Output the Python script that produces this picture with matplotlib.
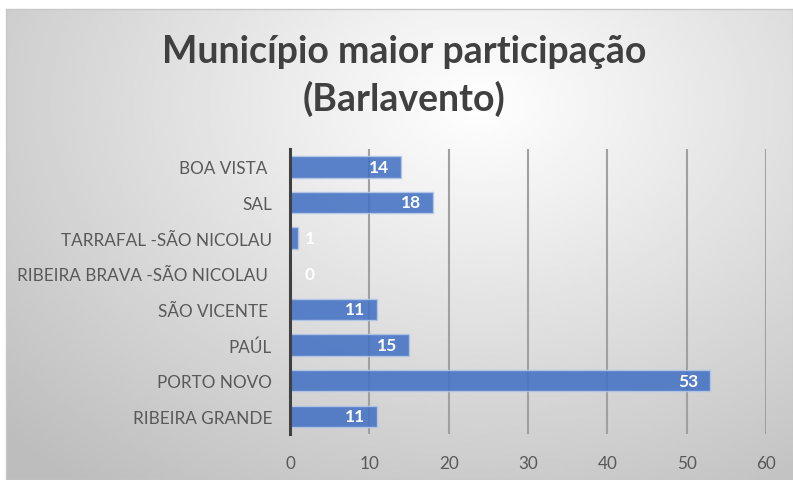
import numpy as np
import matplotlib
matplotlib.use("Agg")
import matplotlib.pyplot as plt

# data
categories = ["BOA VISTA ", "SAL", "TARRAFAL -SÃO NICOLAU", "RIBEIRA BRAVA -SÃO NICOLAU ",
              "SÃO VICENTE ", "PAÚL", "PORTO NOVO", "RIBEIRA GRANDE"]
values = [14, 18, 1, 0, 11, 15, 53, 11]
xticks = [0, 10, 20, 30, 40, 50, 60]
title = "Município maior participação\n(Barlavento)"

plt.rcParams["font.family"] = ["Lato", "DejaVu Sans"]

fig = plt.figure(figsize=(7.93, 4.81), dpi=100)
fig.patch.set_facecolor("white")

# background panel with radial gradient
bg = fig.add_axes([6 / 793, 0, 787 / 793, 471 / 481])
ny, nx = 200, 330
yy, xx = np.mgrid[0:1:ny * 1j, 0:1:nx * 1j]
r = np.sqrt(((xx - 0.6) / 0.7) ** 2 + ((yy - 0.2) / 0.85) ** 2)
shade = 1.0 - 0.26 * np.clip(r, 0, 1.2) / 1.2
bg.imshow(shade, cmap="gray", vmin=0, vmax=1, extent=[0, 1, 0, 1], aspect="auto",
          origin="upper", interpolation="bilinear")
bg.set_xticks([])
bg.set_yticks([])
for s in bg.spines.values():
    s.set_color("#c8c8c8")
    s.set_linewidth(1.0)

ax = fig.add_axes([290 / 793, 46 / 481, 476 / 793, 285 / 481])
ax.patch.set_alpha(0)
y = np.arange(len(categories))
ax.barh(y, values, height=0.6, color="#4472C4", alpha=0.88,
        edgecolor="#b4c7e7", linewidth=1.0, zorder=3)
ax.set_ylim(len(categories) - 0.5, -0.5)
ax.set_xlim(0, 60)
ax.set_xticks(xticks)
ax.set_yticks(y)
ax.set_yticklabels(categories)
ax.tick_params(axis="y", length=0, pad=13, labelsize=12.3, labelcolor="#595959")
ax.tick_params(axis="x", length=0, pad=15, labelsize=12.3, labelcolor="#595959")
ax.grid(axis="x", color="#a0a0a0", linewidth=1.5, zorder=0)
for name in ["top", "right", "bottom"]:
    ax.spines[name].set_visible(False)
ax.spines["left"].set_color("#404040")
ax.spines["left"].set_linewidth(2.2)
ax.spines["left"].set_zorder(4)

for yi, v in zip(y, values):
    if v >= 5:
        ax.annotate(str(v), (v, yi), xytext=(-8.6, 0), textcoords="offset points",
                    ha="right", va="center", color="white", fontsize=12.5,
                    fontweight="bold", zorder=5)
    else:
        ax.annotate(str(v), (0, yi), xytext=(10.5, 0), textcoords="offset points",
                    ha="left", va="center", color="white", fontsize=12.5,
                    fontweight="bold", zorder=5)

fig.text(404 / 793, 1 - 76 / 481, title, ha="center", va="center", fontsize=27,
         fontweight="bold", color="#404040", linespacing=1.42)

fig.savefig("out.png", dpi=100)
